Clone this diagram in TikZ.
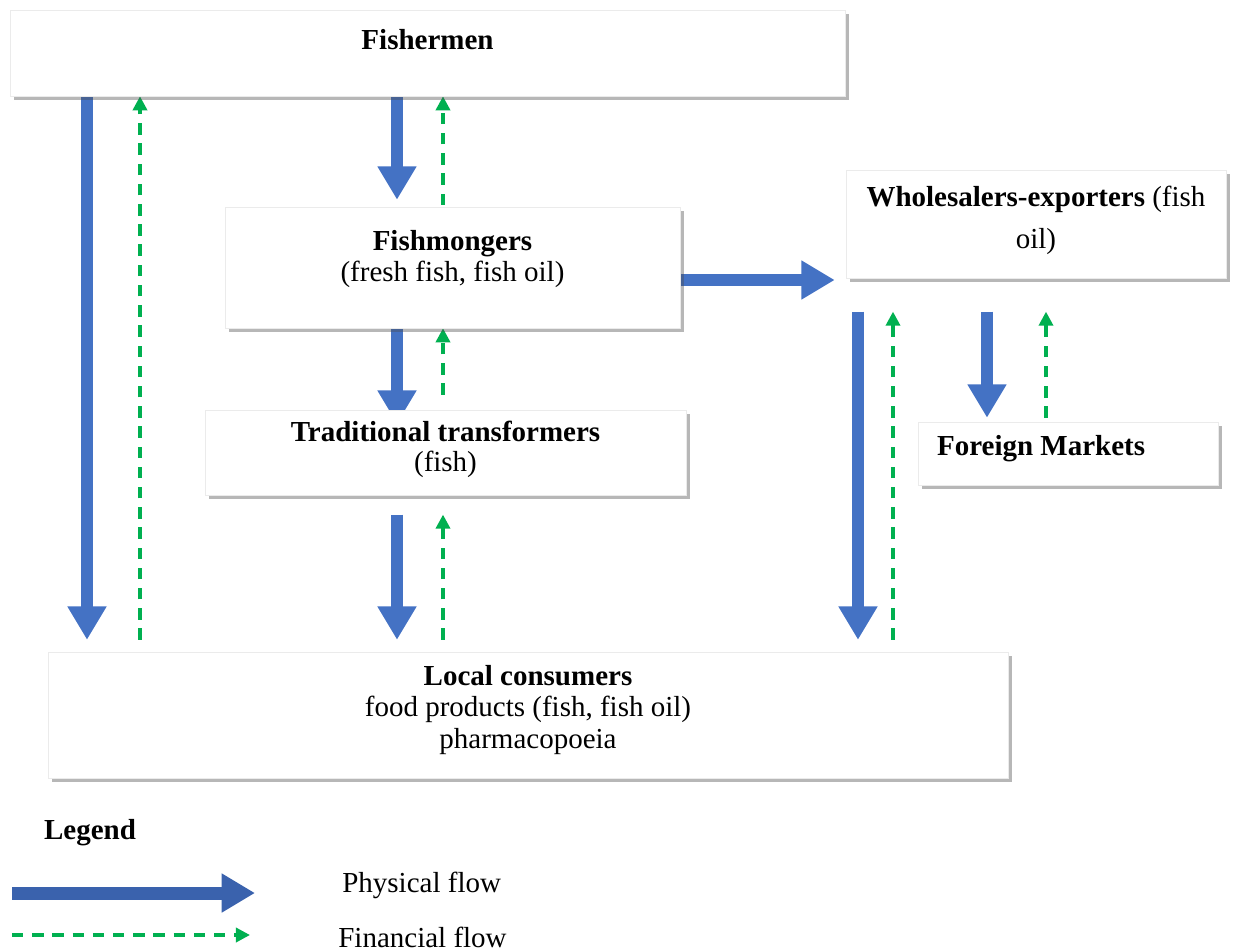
\documentclass[tikz,border=0pt]{standalone}
\usepackage{fontspec}
\setmainfont{Liberation Serif}
\usetikzlibrary{arrows.meta,positioning,backgrounds,shadows}
\definecolor{FlowBlue}{HTML}{4472C4}
\definecolor{LegendBlue}{HTML}{3A62AD}
\definecolor{FlowGreen}{HTML}{00B050}

\tikzset{
  box/.style={fill=white, draw=black!8, line width=0.3pt, inner sep=0pt,
    drop shadow={shadow xshift=2.2pt, shadow yshift=-2.2pt, opacity=0.4, fill=black!70}},
  lbl/.style={font=\fontsize{16.5}{17}\selectfont, align=center, inner sep=0pt},
  phys/.style={draw=FlowBlue, line width=6.6pt, -{Triangle[width=21pt,length=19pt]}},
  fin/.style={draw=FlowGreen, line width=1.9pt, dash pattern=on 6.5pt off 5pt,
    -{Triangle[width=8pt,length=8pt]}},
}

\begin{document}
\begin{tikzpicture}[x=0.02cm, y=-0.02cm]
  \useasboundingbox (0,0) rectangle (1235,951);
  % actors
  \node[box, minimum width=16.7cm, minimum height=1.72cm,
    label={[lbl, anchor=center, yshift=7.4pt]center:\textbf{Fishermen}}] (fishermen) at (427.5,53) {};
  \node[box, minimum width=9.1cm, minimum height=2.42cm,
    label={[lbl, anchor=center, yshift=5pt]center:{\textbf{Fishmongers}\\[0.5pt](fresh fish, fish oil)}}] (mongers) at (452.5,267.5) {};
  \node[box, minimum width=7.6cm, minimum height=2.16cm,
    label={[lbl, anchor=center, yshift=2pt]center:{\textbf{Wholesalers-exporters} (fish\\[7pt]oil)}}] (wholesale) at (1036,224) {};
  \node[box, minimum width=9.62cm, minimum height=1.7cm,
    label={[lbl, anchor=center, yshift=2pt]center:{\textbf{Traditional transformers}\\(fish)}}] (transf) at (445.5,452.5) {};
  \node[box, minimum width=6cm, minimum height=1.26cm,
    label={[lbl, anchor=west, xshift=10.8pt, yshift=3pt]west:\textbf{Foreign Markets}}] (foreign) at (1068,453.5) {};
  \node[box, minimum width=19.2cm, minimum height=2.52cm,
    label={[lbl, anchor=center, yshift=3pt]center:{\textbf{Local consumers}\\[1pt]food products (fish, fish oil)\\[1pt]pharmacopoeia}}] (consumers) at (528,715) {};

  % flows
  \begin{scope}[on background layer]
    \draw[phys, shorten >=6.8pt] (87,0 |- fishermen.south) -- (87,0 |- consumers.north);
    \draw[fin, shorten <=6.8pt] (140,0 |- consumers.north) -- (140,0 |- fishermen.south);
    \draw[phys, shorten >=4pt] (397,0 |- fishermen.south) -- (397,0 |- mongers.north);
    \draw[fin, shorten <=1pt] (443,0 |- mongers.north) -- (443,0 |- fishermen.south);
    \draw[phys, shorten >=-8pt] (397,0 |- mongers.south) -- (397,0 |- transf.north);
    \draw[fin, shorten <=8.5pt] (443,0 |- transf.north) -- (443,0 |- mongers.south);
    \draw[phys, shorten <=11pt, shorten >=6.8pt] (397,0 |- transf.south) -- (397,0 |- consumers.north);
    \draw[fin, shorten <=6.8pt, shorten >=11pt] (443,0 |- consumers.north) -- (443,0 |- transf.south);
    \draw[phys, shorten >=6.3pt] (mongers.east |- 0,280) -- (wholesale.west |- 0,280);
    \draw[phys, shorten <=19pt, shorten >=6.8pt] (858,0 |- wholesale.south) -- (858,0 |- consumers.north);
    \draw[fin, shorten <=6.8pt, shorten >=19pt] (893,0 |- consumers.north) -- (893,0 |- wholesale.south);
    \draw[phys, shorten <=19pt, shorten >=2.3pt] (987,0 |- wholesale.south) -- (987,0 |- foreign.north);
    \draw[fin, shorten <=2.3pt, shorten >=19pt] (1046,0 |- foreign.north) -- (1046,0 |- wholesale.south);
  \end{scope}

  % legend
  \node[lbl] (legend) at (90,833) {\textbf{Legend}};
  \coordinate (phys0) at (12,893);
  \coordinate (phys1) at (255,893);
  \draw[phys, draw=LegendBlue, line width=7.4pt] (phys0) -- (phys1);
  \coordinate (fin0) at (12,935);
  \coordinate (fin1) at (250,935);
  \draw[fin] (fin0) -- (fin1);
  \node[lbl, anchor=west] (physlbl) at (342,885) {Physical flow};
  \node[lbl, anchor=west] (finlbl) at (338,937) {Financial flow};
\end{tikzpicture}
\end{document}
